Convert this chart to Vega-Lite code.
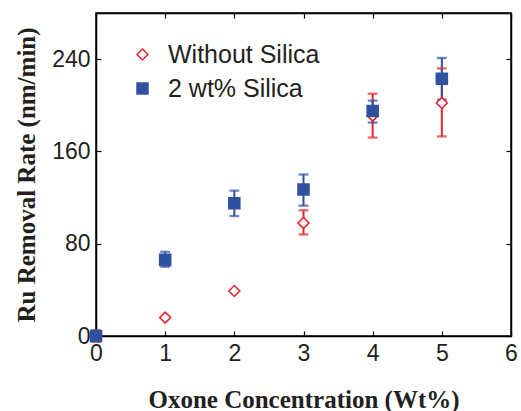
{
  "$schema": "https://vega.github.io/schema/vega-lite/v6.json",
  "width": 415,
  "height": 323,
  "autosize": "none",
  "padding": {"left": 96, "top": 13, "right": 10, "bottom": 75},
  "background": "white",
  "data": {
    "values": [
      {"series": "Without Silica", "x": 0, "v": 0, "lo": -5, "hi": 5},
      {"series": "Without Silica", "x": 1, "v": 16, "lo": null, "hi": null},
      {"series": "Without Silica", "x": 2, "v": 39, "lo": null, "hi": null},
      {"series": "Without Silica", "x": 3, "v": 98, "lo": 88, "hi": 109},
      {"series": "Without Silica", "x": 4, "v": 191, "lo": 172, "hi": 210},
      {"series": "Without Silica", "x": 5, "v": 202, "lo": 173, "hi": 232},
      {"series": "2 wt% Silica", "x": 0, "v": 0, "lo": null, "hi": null},
      {"series": "2 wt% Silica", "x": 1, "v": 66, "lo": 60, "hi": 73},
      {"series": "2 wt% Silica", "x": 2, "v": 115, "lo": 104, "hi": 126},
      {"series": "2 wt% Silica", "x": 3, "v": 127, "lo": 113, "hi": 140},
      {"series": "2 wt% Silica", "x": 4, "v": 195, "lo": 185, "hi": 204},
      {"series": "2 wt% Silica", "x": 5, "v": 223, "lo": 205, "hi": 241}
    ]
  },
  "config": {
    "view": {"stroke": "#000000", "strokeWidth": 1.5},
    "axis": {
      "grid": false,
      "domainColor": "#000000",
      "domainWidth": 1.5,
      "tickColor": "#000000",
      "tickWidth": 1.2,
      "tickSize": -5,
      "labelFont": "Liberation Sans",
      "labelFontSize": 23,
      "labelColor": "#231f20",
      "labelPadding": 11,
      "labelFlush": false,
      "titleFont": "Liberation Serif",
      "titleFontSize": 25,
      "titleFontWeight": "bold",
      "titleColor": "#231f20"
    },
    "legend": {
      "orient": "none",
      "legendX": 34,
      "legendY": 29,
      "padding": 0,
      "labelFont": "Liberation Sans",
      "labelFontSize": 25,
      "labelColor": "#231f20",
      "labelOffset": 13,
      "rowPadding": 8,
      "symbolSize": 120,
      "symbolOpacity": 1,
      "symbolStrokeWidth": 1.5
    }
  },
  "layer": [
    {
      "transform": [{"filter": "datum.lo != null"}],
      "mark": {"type": "rule", "strokeWidth": 2},
      "encoding": {
        "x": {"field": "x", "type": "quantitative", "scale": {"domain": [0, 6]}, "axis": {"values": [0, 1, 2, 3, 4, 5, 6], "title": "Oxone Concentration (Wt%)", "titlePadding": 22}},
        "y": {"field": "lo", "type": "quantitative", "scale": {"domain": [0, 280]}, "axis": {"values": [0, 80, 160, 240], "title": "Ru Removal Rate (nm/min)", "titlePadding": 12}},
        "y2": {"field": "hi"},
        "stroke": {"field": "series", "type": "nominal", "title": null, "scale": {"domain": ["Without Silica", "2 wt% Silica"], "range": ["#e8262b", "#3050a0"]}}
      }
    },
    {
      "transform": [{"filter": "datum.lo != null"}],
      "mark": {"type": "tick", "orient": "horizontal", "size": 8, "thickness": 0.5, "filled": false, "strokeWidth": 1.8},
      "encoding": {
        "x": {"field": "x", "type": "quantitative", "axis": null},
        "y": {"field": "lo", "type": "quantitative", "axis": null},
        "stroke": {"field": "series", "type": "nominal", "title": null}
      }
    },
    {
      "transform": [{"filter": "datum.lo != null"}],
      "mark": {"type": "tick", "orient": "horizontal", "size": 8, "thickness": 0.5, "filled": false, "strokeWidth": 1.8},
      "encoding": {
        "x": {"field": "x", "type": "quantitative", "axis": null},
        "y": {"field": "hi", "type": "quantitative", "axis": null},
        "stroke": {"field": "series", "type": "nominal", "title": null}
      }
    },
    {
      "mark": {"type": "point", "strokeWidth": 1.6, "opacity": 1},
      "encoding": {
        "x": {"field": "x", "type": "quantitative", "axis": null},
        "y": {"field": "v", "type": "quantitative", "axis": null},
        "shape": {"field": "series", "type": "nominal", "title": null, "scale": {"domain": ["Without Silica", "2 wt% Silica"], "range": ["diamond", "square"]}},
        "stroke": {"field": "series", "type": "nominal", "title": null},
        "fill": {"field": "series", "type": "nominal", "title": null, "scale": {"domain": ["Without Silica", "2 wt% Silica"], "range": ["#ffffff", "#3050a0"]}},
        "size": {"value": 120}
      }
    },
    {
      "mark": {"type": "point", "opacity": 0},
      "encoding": {
        "x": {"field": "x", "type": "quantitative", "axis": {"orient": "top", "values": [0, 1, 2, 3, 4, 5, 6], "labels": false, "title": null}},
        "y": {"field": "v", "type": "quantitative", "axis": {"orient": "right", "values": [0, 80, 160, 240], "labels": false, "title": null}}
      }
    }
  ],
  "resolve": {"axis": {"x": "independent", "y": "independent"}}
}
